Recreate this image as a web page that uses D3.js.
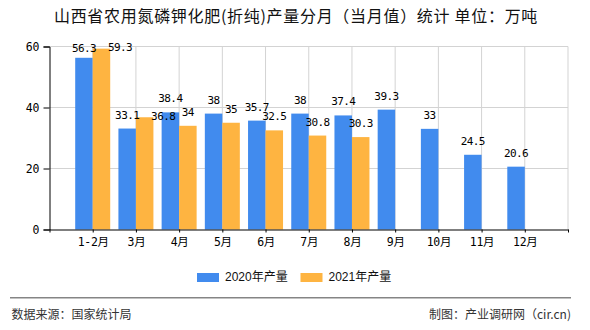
<!DOCTYPE html>
<html>
<head>
<meta charset="utf-8">
<script src="https://cdn.jsdelivr.net/npm/d3@7"></script>
<style>
  html, body { margin: 0; padding: 0; background: #fff; }
  svg { display: block; }
</style>
</head>
<body>
<svg id="chart" width="590" height="330"></svg>
<script>
const categories = ["1-2月","3月","4月","5月","6月","7月","8月","9月","10月","11月","12月"];
const values2020 = [56.3, 33.1, 38.4, 38, 35.7, 38, 37.4, 39.3, 33, 24.5, 20.6];
const values2021 = [59.3, 36.8, 34, 35, 32.5, 30.8, 30.3, null, null, null, null];
const seriesNames = ["2020年产量", "2021年产量"];
const yTicks = [0, 20, 40, 60];
const title = "山西省农用氮磷钾化肥(折纯)产量分月（当月值）统计 单位：万吨";
const sourceText = "数据来源：国家统计局";
const creditText = "制图：产业调研网（cir.cn)";

(function () {
const colors = ["#418BEE", "#FEB441"];
const svg = d3.select("#chart");
const pLeft = 49.5, pRight = 568, pTop = 46.5, pBottom = 229.5;
const barW = 17.5;

const x = d3.scaleLinear().domain([0, categories.length + 1]).range([pLeft, pRight]);
const y = d3.scaleLinear().domain([0, 60]).range([pBottom, pTop]);
const cx = i => x(i + 1);

// Title
svg.append("text").attr("x", 296).attr("y", 18)
  .attr("text-anchor", "middle").attr("dominant-baseline", "middle")
  .style("font-family", "'Noto Sans CJK SC', sans-serif").style("font-size", "16px")
  .style("letter-spacing", "0.7px").style("white-space", "pre").attr("fill", "#111").text(title);

// grid
const g = svg.append("g");
g.selectAll(".hg").data(yTicks.filter(d => d > 0)).enter().append("line")
  .attr("x1", pLeft).attr("x2", pRight).attr("y1", d => y(d)).attr("y2", d => y(d))
  .attr("stroke", "#d3d3d3").attr("stroke-width", 1);
g.selectAll(".vg").data(d3.range(1, categories.length + 2)).enter().append("line")
  .attr("x1", d => x(d)).attr("x2", d => x(d)).attr("y1", pTop).attr("y2", pBottom)
  .attr("stroke", "#d3d3d3").attr("stroke-width", 1);

// bars
const bars = svg.append("g");
categories.forEach((c, i) => {
  [values2020[i], values2021[i]].forEach((v, s) => {
    if (v == null) return;
    bars.append("rect")
      .attr("x", s === 0 ? cx(i) - barW : cx(i))
      .attr("y", y(v)).attr("width", barW).attr("height", y(0) - y(v))
      .attr("fill", colors[s]);
  });
});

// axes
const yAxis = d3.axisLeft(y).tickValues(yTicks).tickSize(6).tickPadding(4);
const ya = svg.append("g").attr("transform", `translate(${pLeft},0)`).call(yAxis);
ya.select(".domain").attr("stroke", "#000");
ya.selectAll(".tick line").attr("stroke", "#000");
ya.selectAll("text").style("font-family", "'DejaVu Sans Mono', monospace").style("font-size", "11.5px").attr("fill", "#000");

const xAxis = d3.axisBottom(x).tickValues(d3.range(0, categories.length + 2)).tickSize(3).tickSizeOuter(0)
  .tickFormat(d => (d >= 1 && d <= categories.length) ? categories[d - 1] : "");
const xa = svg.append("g").attr("transform", `translate(0,${pBottom})`).call(xAxis);
xa.select(".domain").attr("stroke", "#000").attr("stroke-width", 1.2);
xa.selectAll(".tick line").attr("stroke", "#000");
xa.selectAll("text").attr("dy", "0.95em")
  .style("font-family", "'DejaVu Sans Mono', 'Noto Sans CJK SC', monospace").style("font-size", "11.5px")
  .style("letter-spacing", "-0.3px").attr("fill", "#000");

// data labels
const lab = svg.append("g").style("font-family", "'DejaVu Sans Mono', monospace").style("font-size", "11px")
  .style("letter-spacing", "-0.6px").attr("fill", "#000");
categories.forEach((c, i) => {
  const v0 = values2020[i], v1 = values2021[i];
  const bx0 = cx(i) - barW / 2, bx1 = cx(i) + barW / 2;
  const cy0 = Math.max(y(v0) - 13, pTop + 2);
  lab.append("text").attr("x", bx0).attr("y", cy0).attr("text-anchor", "middle")
    .attr("dominant-baseline", "middle").text(String(v0));
  if (v1 != null) {
    let lx = bx1, ly = Math.max(y(v1) - 13, pTop + 2);
    const w = Math.max(String(v0).length, String(v1).length) * 6;
    if (Math.abs(lx - bx0) < w && ly < cy0 + 9) { lx = bx1 + barW + 1; ly = y(v1) - 0.5; }
    lab.append("text").attr("x", lx).attr("y", ly).attr("text-anchor", "middle")
      .attr("dominant-baseline", "middle").text(String(v1));
  }
});

// legend
const legX = [197, 300.5];
seriesNames.forEach((n, s) => {
  svg.append("rect").attr("x", legX[s]).attr("y", 273).attr("width", 22).attr("height", 9).attr("fill", colors[s]);
  svg.append("text").attr("x", legX[s] + 28).attr("y", 277.5).attr("dominant-baseline", "middle")
    .style("font-family", "'Liberation Sans', 'Noto Sans CJK SC', sans-serif").style("font-size", "12px")
    .attr("fill", "#111").text(n);
});

// footer
svg.append("line").attr("x1", 10).attr("x2", 571).attr("y1", 297.7).attr("y2", 297.7)
  .attr("stroke", "#858585").attr("stroke-width", 1.5);
svg.append("text").attr("x", 11.5).attr("y", 316).attr("dominant-baseline", "middle")
  .style("font-family", "'Noto Sans CJK SC', sans-serif").style("font-size", "12px").attr("fill", "#333").text(sourceText);
svg.append("text").attr("x", 571).attr("y", 316).attr("text-anchor", "end").attr("dominant-baseline", "middle")
  .style("font-family", "'Noto Sans CJK SC', sans-serif").style("font-size", "12px").attr("fill", "#333").text(creditText);
})();
</script>
</body>
</html>
